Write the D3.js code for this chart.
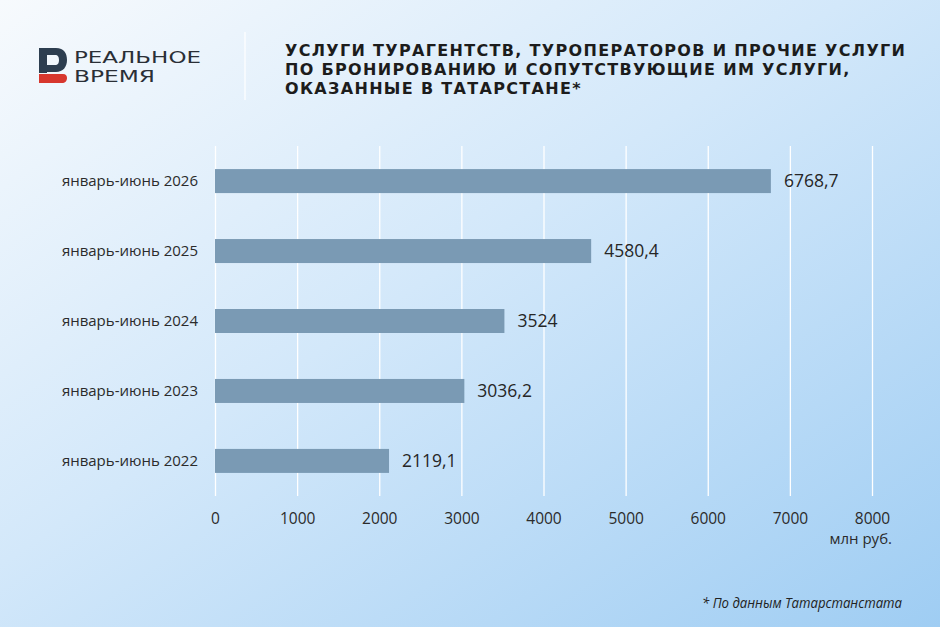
<!DOCTYPE html>
<html>
<head>
<meta charset="utf-8">
<script src="https://cdn.jsdelivr.net/npm/d3@7"></script>
<style>
  html, body { margin: 0; padding: 0; }
  body { width: 940px; height: 627px; overflow: hidden; }
</style>
</head>
<body>
<svg id="canvas" width="940" height="627" font-family="'Open Sans', 'DejaVu Sans', sans-serif"></svg>
<script>
// data
let categories = ['январь-июнь 2026', 'январь-июнь 2025', 'январь-июнь 2024', 'январь-июнь 2023', 'январь-июнь 2022']
let values = [6768.7, 4580.4, 3524, 3036.2, 2119.1]
let valueLabels = ['6768,7', '4580,4', '3524', '3036,2', '2119,1']
let ticks = [0, 1000, 2000, 3000, 4000, 5000, 6000, 7000, 8000]
let titleLines = [
    'УСЛУГИ ТУРАГЕНТСТВ, ТУРОПЕРАТОРОВ И ПРОЧИЕ УСЛУГИ',
    'ПО БРОНИРОВАНИЮ И СОПУТСТВУЮЩИЕ ИМ УСЛУГИ,',
    'ОКАЗАННЫЕ В ТАТАРСТАНЕ*'
]
let logoLines = ['РЕАЛЬНОЕ', 'ВРЕМЯ']
let logoWidths = [127, 81]

let width = 940
let height = 627

let canvas = d3.select('#canvas')

// background gradient
let defs = canvas.append('defs')
let grad = defs.append('linearGradient')
    .attr('id', 'bg')
    .attr('x1', '0%').attr('y1', '0%')
    .attr('x2', '100%').attr('y2', '100%')
grad.append('stop').attr('offset', '0%').attr('stop-color', '#f7fafd')
grad.append('stop').attr('offset', '45%').attr('stop-color', '#d3e8fa')
grad.append('stop').attr('offset', '100%').attr('stop-color', '#9fcdf3')

canvas.append('rect')
    .attr('width', width)
    .attr('height', height)
    .attr('fill', 'url(#bg)')

// logo
let logo = canvas.append('g')
logo.append('path')
    .attr('d', 'M39,48 H56 C64,48 67,53 67,60 C67,67 63,72 56,72 H47 V73 H39 Z M47,55 V65 H55 C58,65 59,63 59,60 C59,57 58,55 55,55 Z')
    .attr('fill', '#2d3e50')
    .attr('fill-rule', 'evenodd')
logo.append('path')
    .attr('d', 'M39,74 H63 C66,74 67,76 67,78 C67,81 65,83 62,83 H39 Z')
    .attr('fill', '#d7372e')
logo.selectAll('.logotext')
    .data(logoLines)
    .enter()
    .append('text')
    .attr('class', 'logotext')
    .attr('x', 74)
    .attr('y', (d, i) => 63 + i * 19)
    .attr('font-family', '"DejaVu Sans", sans-serif')
    .attr('font-size', 16)
    .attr('fill', '#2a2f36')
    .attr('textLength', (d, i) => logoWidths[i])
    .attr('lengthAdjust', 'spacingAndGlyphs')
    .text(d => d)

canvas.append('line')
    .attr('x1', 245).attr('x2', 245)
    .attr('y1', 32).attr('y2', 100)
    .attr('stroke', '#ffffff')
    .attr('stroke-width', 1.2)

// title
canvas.selectAll('.title')
    .data(titleLines)
    .enter()
    .append('text')
    .attr('class', 'title')
    .attr('x', 285)
    .attr('y', (d, i) => 55.5 + i * 19)
    .attr('font-family', '"DejaVu Sans", sans-serif')
    .attr('font-size', 16)
    .attr('font-weight', 700)
    .attr('fill', '#1c1c1c')
    .text(d => d)

// spread the title to the width seen in the picture
let w = canvas.select('.title').node().getComputedTextLength()
let spacing = (620 - w) / (titleLines[0].length - 1)
canvas.selectAll('.title').attr('letter-spacing', spacing)

// scales
let xScale = d3.scaleLinear()
    .domain([0, 8000])
    .range([215, 872])

let yScale = d3.scaleBand()
    .domain(categories)
    .range([146, 496])
    .paddingInner(0.657)
    .paddingOuter(0.33)

// gridlines
let grid = d3.axisBottom(xScale)
    .tickValues(ticks)
    .tickSize(-(496 - 146))
    .tickFormat('')
canvas.append('g')
    .attr('transform', 'translate(0,496)')
    .call(grid)
    .call(g => g.select('.domain').remove())
    .call(g => g.selectAll('line').attr('stroke', '#ffffff').attr('stroke-width', 1.3))

// x axis labels
let xAxis = d3.axisBottom(xScale)
    .tickValues(ticks)
    .tickSize(0)
    .tickPadding(0)
    .tickFormat(d3.format('d'))
canvas.append('g')
    .attr('transform', 'translate(0,513)')
    .call(xAxis)
    .call(g => g.select('.domain').remove())
    .call(g => g.selectAll('text')
        .attr('font-family', '"Open Sans", sans-serif')
        .attr('font-size', 15.5)
        .attr('fill', '#2b2b2b'))

canvas.append('text')
    .attr('x', 892)
    .attr('y', 544)
    .attr('text-anchor', 'end')
    .attr('font-size', 15)
    .attr('fill', '#2b2b2b')
    .text('млн руб.')

// bars
canvas.selectAll('.bar')
    .data(values)
    .enter()
    .append('rect')
    .attr('class', 'bar')
    .attr('x', xScale(0))
    .attr('y', (d, i) => yScale(categories[i]))
    .attr('width', d => xScale(d) - xScale(0))
    .attr('height', yScale.bandwidth())
    .attr('fill', '#7a9ab4')

// value labels
canvas.selectAll('.value')
    .data(values)
    .enter()
    .append('text')
    .attr('class', 'value')
    .attr('x', d => xScale(d) + 13)
    .attr('y', (d, i) => yScale(categories[i]) + yScale.bandwidth() / 2)
    .attr('dy', '0.36em')
    .attr('font-size', 17.5)
    .attr('fill', '#262626')
    .text((d, i) => valueLabels[i])

// category labels
canvas.selectAll('.cat')
    .data(categories)
    .enter()
    .append('text')
    .attr('class', 'cat')
    .attr('x', 198)
    .attr('y', d => yScale(d) + yScale.bandwidth() / 2)
    .attr('dy', '0.36em')
    .attr('text-anchor', 'end')
    .attr('font-size', 15)
    .attr('fill', '#2b2b2b')
    .text(d => d)

// footnote
canvas.append('text')
    .attr('x', 902)
    .attr('y', 608)
    .attr('text-anchor', 'end')
    .attr('font-size', 14)
    .attr('font-style', 'italic')
    .attr('fill', '#222222')
    .attr('textLength', 200)
    .attr('lengthAdjust', 'spacingAndGlyphs')
    .text('* По данным Татарстанстата')
</script>
</body>
</html>
